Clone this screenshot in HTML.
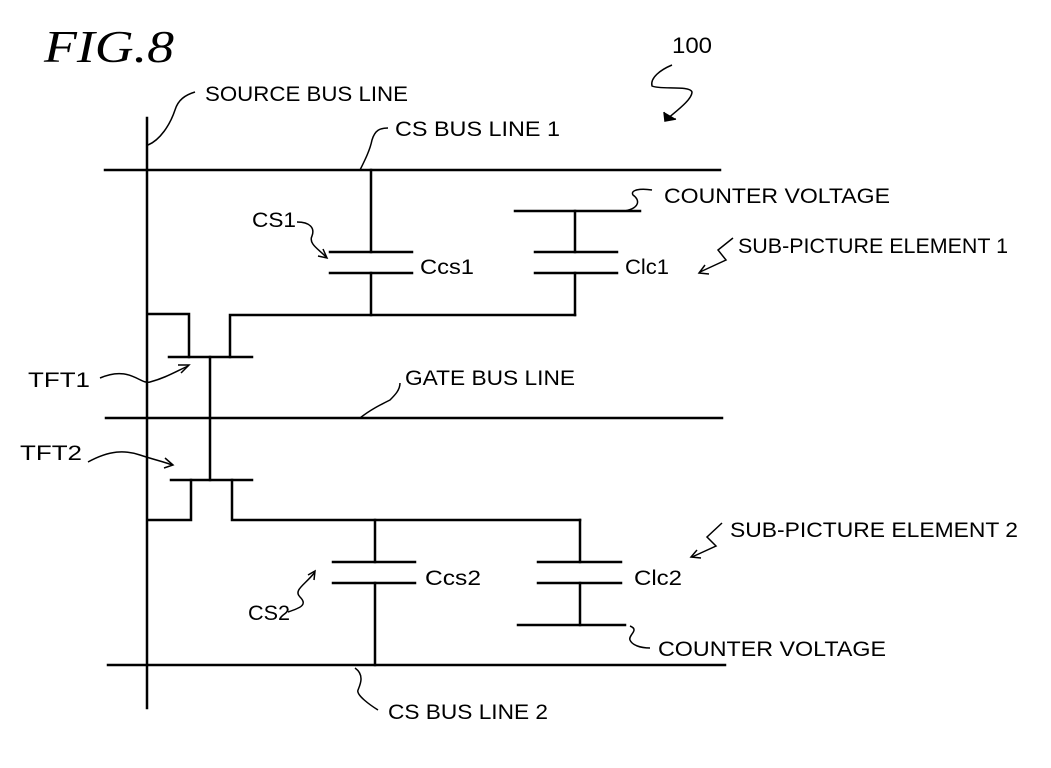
<!DOCTYPE html>
<html><head><style>body{margin:0;background:#fff}svg{display:block}</style></head><body>
<svg width="1051" height="768" viewBox="0 0 1051 768" xmlns="http://www.w3.org/2000/svg">
<g stroke="#000" stroke-width="2.5" fill="none" stroke-linecap="square">
<line x1="147" y1="118" x2="147" y2="708"/>
<line x1="105" y1="170" x2="720" y2="170"/>
<line x1="106" y1="418" x2="722" y2="418"/>
<line x1="108" y1="665" x2="725" y2="665"/>
<polyline points="148,314 189,314 189,357"/>
<line x1="169" y1="357" x2="252" y2="357"/>
<polyline points="230,357 230,315 575,315"/>
<line x1="210" y1="357" x2="210" y2="480"/>
<line x1="171" y1="480" x2="252" y2="480"/>
<polyline points="191,480 191,520 148,520"/>
<polyline points="232,480 232,520 580,520"/>
<line x1="371" y1="170" x2="371" y2="252"/>
<line x1="330" y1="252" x2="412" y2="252"/>
<line x1="330" y1="273" x2="412" y2="273"/>
<line x1="371" y1="273" x2="371" y2="315"/>
<line x1="515" y1="211" x2="640" y2="211"/>
<line x1="575" y1="211" x2="575" y2="252"/>
<line x1="535" y1="252" x2="617" y2="252"/>
<line x1="535" y1="273" x2="617" y2="273"/>
<line x1="575" y1="273" x2="575" y2="315"/>
<line x1="375" y1="520" x2="375" y2="562"/>
<line x1="333" y1="562" x2="415" y2="562"/>
<line x1="333" y1="583" x2="415" y2="583"/>
<line x1="375" y1="583" x2="375" y2="665"/>
<line x1="580" y1="520" x2="580" y2="562"/>
<line x1="538" y1="562" x2="621" y2="562"/>
<line x1="538" y1="583" x2="621" y2="583"/>
<line x1="580" y1="583" x2="580" y2="625"/>
<line x1="518" y1="625" x2="625" y2="625"/>
</g>
<g stroke="#000" stroke-width="1.5" fill="none">
<path d="M148,145 C160,140 170,125 175,110 C178,100 185,95 195,92"/>
<path d="M360,170 C365,160 370,150 372,140 C375,130 380,128 388,128"/>
<path d="M625,211 C640,208 640,200 633,195 C630,190 640,188 652,190"/>
<path d="M297,222 C310,222 315,228 312,236 C308,244 320,250 326,257"/><path d="M318,256 L327,258 L323,249"/>
<path d="M733,238 L718,250 L726,260 L700,272"/><path d="M705,265 L699,273 L709,274"/>
<path d="M100,378 C130,365 140,385 150,382 C165,378 175,372 188,366"/><path d="M178,365 L189,365 L181,373"/>
<path d="M360,418 C370,410 380,405 390,400 C395,395 400,390 400,383"/>
<path d="M88,462 C110,450 125,450 140,455 C155,460 165,462 172,465"/><path d="M165,458 L173,465 L164,468"/>
<path d="M722,523 L707,537 L716,546 L692,557"/><path d="M697,550 L691,557 L701,558"/>
<path d="M288,612 C300,608 308,605 300,597 C293,590 305,585 315,572"/><path d="M308,575 L315,571 L314,580"/>
<path d="M630,626 C640,630 628,635 630,640 C632,645 640,648 650,648"/>
<path d="M355,668 C365,675 360,685 358,690 C356,695 370,705 378,710"/>
<path d="M672,65 C660,70 650,78 652,86 C660,90 690,85 692,92 C692,100 675,112 666,120"/>
<path d="M664,112 L665,121 L676,119" fill="#000"/>
</g>
<g font-family="Liberation Sans, sans-serif" font-size="21" fill="#000">
<text x="44" y="62" font-family="Liberation Serif, serif" font-style="italic" font-size="46" textLength="130" lengthAdjust="spacingAndGlyphs">FIG.8</text>
<text x="672" y="53" font-size="22" textLength="40" lengthAdjust="spacingAndGlyphs">100</text>
<text x="205" y="101" textLength="203" lengthAdjust="spacingAndGlyphs">SOURCE BUS LINE</text>
<text x="395" y="136" textLength="165" lengthAdjust="spacingAndGlyphs">CS BUS LINE 1</text>
<text x="664" y="203" textLength="226" lengthAdjust="spacingAndGlyphs">COUNTER VOLTAGE</text>
<text x="252" y="227" textLength="44" lengthAdjust="spacingAndGlyphs">CS1</text>
<text x="420" y="274" textLength="54" lengthAdjust="spacingAndGlyphs">Ccs1</text>
<text x="625" y="274" textLength="44" lengthAdjust="spacingAndGlyphs">Clc1</text>
<text x="738" y="253" textLength="270" lengthAdjust="spacingAndGlyphs">SUB-PICTURE ELEMENT 1</text>
<text x="28" y="387" textLength="62" lengthAdjust="spacingAndGlyphs">TFT1</text>
<text x="405" y="385" textLength="170" lengthAdjust="spacingAndGlyphs">GATE BUS LINE</text>
<text x="20" y="460" textLength="62" lengthAdjust="spacingAndGlyphs">TFT2</text>
<text x="730" y="537" textLength="288" lengthAdjust="spacingAndGlyphs">SUB-PICTURE ELEMENT 2</text>
<text x="425" y="585" textLength="56" lengthAdjust="spacingAndGlyphs">Ccs2</text>
<text x="634" y="585" textLength="48" lengthAdjust="spacingAndGlyphs">Clc2</text>
<text x="248" y="620" textLength="42" lengthAdjust="spacingAndGlyphs">CS2</text>
<text x="658" y="656" textLength="228" lengthAdjust="spacingAndGlyphs">COUNTER VOLTAGE</text>
<text x="388" y="719" textLength="160" lengthAdjust="spacingAndGlyphs">CS BUS LINE 2</text>
</g>
</svg>
</body></html>
